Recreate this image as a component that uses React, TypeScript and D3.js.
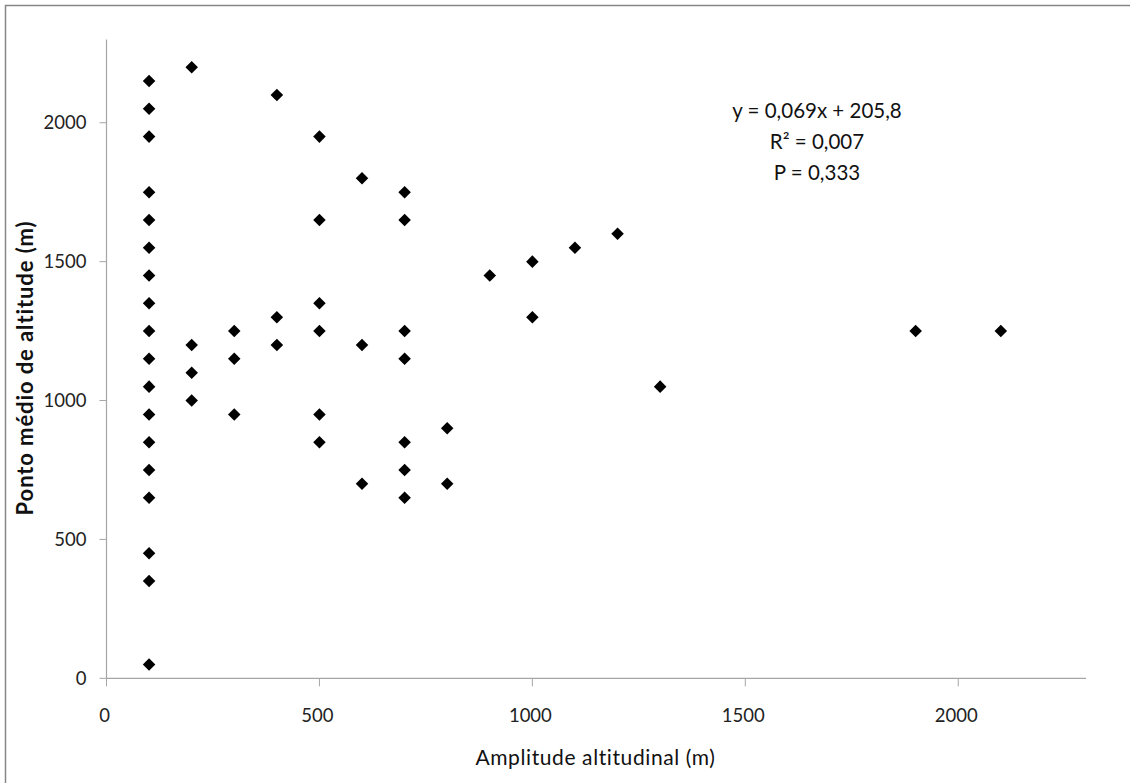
import React, { useEffect, useRef } from "react";
import * as d3 from "d3";

const amplitude = [
  100, 100, 100, 100, 100, 100, 100, 100, 100, 100, 100, 100, 100, 100, 100, 100, 100, 100,
  200, 200, 200, 200,
  300, 300, 300,
  400, 400, 400,
  500, 500, 500, 500, 500, 500,
  600, 600, 600,
  700, 700, 700, 700, 700, 700, 700,
  800, 800,
  900,
  1000, 1000,
  1100,
  1200,
  1300,
  1900,
  2100,
];
const midpoint = [
  2150, 2050, 1950, 1750, 1650, 1550, 1450, 1350, 1250, 1150, 1050, 950, 850, 750, 650, 450, 350, 50,
  2200, 1200, 1100, 1000,
  1250, 1150, 950,
  2100, 1300, 1200,
  1950, 1650, 1350, 1250, 950, 850,
  1800, 1200, 700,
  1750, 1650, 1250, 1150, 850, 750, 650,
  900, 700,
  1450,
  1500, 1300,
  1550,
  1600,
  1050,
  1250,
  1250,
];
const xTicks = [0, 500, 1000, 1500, 2000];
const yTicks = [0, 500, 1000, 1500, 2000];
const equationLines = ["y = 0,069x + 205,8", "R² = 0,007", "P = 0,333"];
const xTitle = "Amplitude altitudinal (m)";
const yTitle = "Ponto médio de altitude (m)";

const W = 1130;
const H = 783;
const FONT = "Lato, 'Open Sans', sans-serif";

export default function App() {
  const ref = useRef<SVGSVGElement>(null);

  useEffect(() => {
    const svg = d3.select(ref.current);
    svg.selectAll("*").remove();

    const x = d3.scaleLinear().domain([0, 2300]).range([106.5, 1086]);
    const y = d3.scaleLinear().domain([0, 2300]).range([678.3, 39.4]);

    svg.append("rect").attr("width", W).attr("height", H).attr("fill", "#fff");

    // outer frame
    svg
      .append("path")
      .attr("d", `M5.5,${H + 5} V5.5 H${W + 5}`)
      .attr("fill", "none")
      .attr("stroke", "#868686")
      .attr("stroke-width", 1.5);

    const axisColor = "#a6a6a6";

    // x axis
    const gx = svg.append("g").attr("transform", `translate(0,${y(0)})`);
    gx.append("line").attr("x1", x(0)).attr("x2", x(2300)).attr("stroke", axisColor).attr("stroke-width", 1.2);
    gx.selectAll("line.tick")
      .data(xTicks)
      .enter()
      .append("line")
      .attr("class", "tick")
      .attr("x1", (d) => x(d))
      .attr("x2", (d) => x(d))
      .attr("y1", 0)
      .attr("y2", 8)
      .attr("stroke", axisColor);
    gx.selectAll("text")
      .data(xTicks)
      .enter()
      .append("text")
      .attr("x", (d) => x(d) - 2)
      .attr("y", 44)
      .attr("text-anchor", "middle")
      .attr("font-family", FONT)
      .attr("font-size", 18.5)
      .attr("fill", "#222")
      .text((d) => String(d));

    // y axis
    const gy = svg.append("g").attr("transform", `translate(${x(0)},0)`);
    gy.append("line").attr("y1", y(0)).attr("y2", y(2300)).attr("stroke", axisColor).attr("stroke-width", 1.2);
    gy.selectAll("line.tick")
      .data(yTicks)
      .enter()
      .append("line")
      .attr("class", "tick")
      .attr("y1", (d) => y(d))
      .attr("y2", (d) => y(d))
      .attr("x1", -7)
      .attr("x2", 0)
      .attr("stroke", axisColor);
    gy.selectAll("text")
      .data(yTicks)
      .enter()
      .append("text")
      .attr("x", -20)
      .attr("y", (d) => y(d))
      .attr("dy", "0.35em")
      .attr("text-anchor", "end")
      .attr("font-family", FONT)
      .attr("font-size", 18.5)
      .attr("fill", "#222")
      .text((d) => String(d));

    // points
    const diamond = d3.symbol().type(d3.symbolDiamond2).size(100);
    svg
      .append("g")
      .selectAll("path")
      .data(amplitude.map((a, i) => [a, midpoint[i]]))
      .enter()
      .append("path")
      .attr("transform", (d) => `translate(${x(d[0])},${y(d[1])})`)
      .attr("d", diamond as any)
      .attr("fill", "#000");

    // equation text
    const eq = svg.append("g");
    eq.selectAll("text")
      .data(equationLines)
      .enter()
      .append("text")
      .attr("x", 817)
      .attr("y", (_, i) => 118 + i * 31)
      .attr("text-anchor", "middle")
      .attr("font-family", FONT)
      .attr("font-size", 20.5)
      .attr("fill", "#111")
      .text((d) => d);

    // axis titles
    svg
      .append("text")
      .attr("x", 595.5)
      .attr("y", 765)
      .attr("text-anchor", "middle")
      .attr("font-family", FONT)
      .attr("font-size", 21)
      .attr("letter-spacing", 0.6)
      .attr("fill", "#111")
      .text(xTitle);

    svg
      .append("text")
      .attr("transform", `translate(33,368) rotate(-90)`)
      .attr("text-anchor", "middle")
      .attr("font-family", FONT)
      .attr("font-weight", "bold")
      .attr("font-size", 22)
      .attr("letter-spacing", 0.9)
      .attr("fill", "#111")
      .text(yTitle);
  }, []);

  return (
    <svg
      ref={ref}
      width={W}
      height={H}
      style={{ position: "absolute", left: 0, top: 0, display: "block" }}
    />
  );
}
